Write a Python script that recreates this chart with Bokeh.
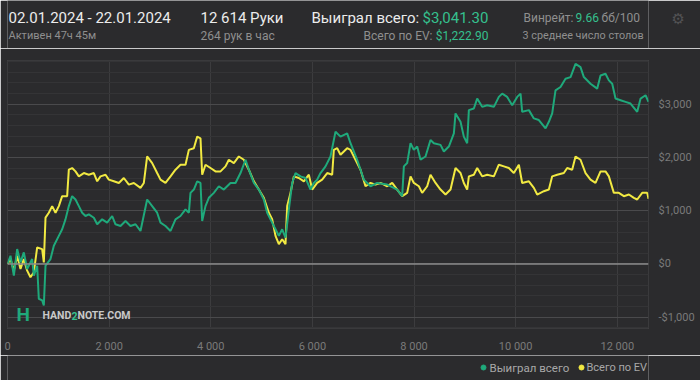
from bokeh.plotting import figure
from bokeh.layouts import column
from bokeh.models import (Range1d, Label, Span, SingleIntervalTicker, FixedTicker,
                          CustomJSTickFormatter)
from bokeh.core.properties import value
from bokeh.embed import file_html
from bokeh.resources import INLINE

# ---- data (hands, dollars) ----
won_hands = [0, 59, 125, 190, 256, 321, 387, 485, 518, 584, 616, 682, 715, 748, 846, 912, 1010, 1076,
             1141, 1207, 1272, 1338, 1404, 1469, 1535, 1600, 1699, 1765, 1863, 1961, 2060, 2125, 2224,
             2322, 2420, 2519, 2617, 2748, 2847, 2945, 3011, 3109, 3208, 3306, 3404, 3503, 3569, 3601,
             3667, 3733, 3798, 3831, 3896, 3962, 4060, 4159, 4257, 4388, 4487, 4585, 4684, 4749, 4848,
             4946, 5044, 5110, 5208, 5274, 5340, 5405, 5471, 5537, 5602, 5668, 5766, 5864, 5963, 6028,
             6094, 6160, 6258, 6356, 6455, 6553, 6684, 6750, 6881, 7012, 7144, 7275, 7472, 7668, 7767,
             7800, 7865, 7931, 7996, 8062, 8128, 8226, 8324, 8390, 8521, 8587, 8685, 8784, 8816, 8915,
             8980, 9046, 9079, 9177, 9243, 9341, 9440, 9571, 9669, 9735, 9833, 9932, 10030, 10096,
             10128, 10260, 10358, 10456, 10588, 10653, 10719, 10784, 10883, 10981, 11080, 11178,
             11276, 11342, 11473, 11604, 11670, 11768, 11834, 11900, 11965, 12064, 12162, 12260,
             12392, 12458, 12556, 12614]
won_values = [0, 155, -218, 279, 31, 217, -94, 93, -218, -32, -652, -683, -776, -32, 93, 341, 527, 651,
              837, 1086, 1272, 1210, 1086, 962, 900, 931, 868, 745, 838, 775, 900, 745, 713,
              806, 713, 745, 620, 1210, 1086, 962, 775, 713, 620, 838, 900, 1024, 962, 1334,
              1396, 1551, 1520, 806, 1086, 1241, 1334, 1458, 1396, 1520, 1520, 1706, 1955, 1769, 1520,
              1396, 1210, 962, 775, 651, 527, 651, 496, 1024, 1520, 1706, 1644, 1613, 1396, 1520,
              1582, 1706, 1831, 2017, 2482, 2389, 2451, 2265, 1955, 1582, 1458, 1520, 1489, 1396, 1272,
              1831, 1893, 2265, 2141, 2203, 1955, 2017, 2327, 2265, 2234, 2110, 2203, 2451, 2824, 2668,
              2389, 2265, 2886, 2917, 3103, 2948, 2979, 2948, 3134, 3196, 3134, 2979, 3134, 3196,
              2855, 2886, 2731, 2700, 2544, 2668, 2824, 3258, 3320, 3475, 3506, 3755,
              3693, 3506, 3382, 3289, 3537, 3568, 3444, 3382, 3103, 3072, 3041, 3010,
              2855, 3103, 3165, 3041.30]

ev_hands = [0, 59, 125, 190, 256, 321, 387, 452, 518, 584, 682, 715, 748, 813, 879, 945, 1010, 1076,
            1174, 1207, 1272, 1338, 1404, 1502, 1600, 1699, 1765, 1830, 1929, 1994, 2093, 2191, 2289,
            2388, 2486, 2617, 2683, 2748, 2847, 2945, 3011, 3109, 3208, 3306, 3404, 3503, 3569, 3667,
            3733, 3798, 3831, 3896, 3995, 4093, 4192, 4290, 4356, 4454, 4552, 4651, 4749, 4848, 4946,
            5044, 5143, 5208, 5274, 5340, 5405, 5471, 5504, 5569, 5635, 5733, 5832, 5930, 5996, 6094,
            6192, 6291, 6389, 6422, 6488, 6553, 6684, 6750, 6848, 6947, 7045, 7144, 7242, 7340, 7472,
            7570, 7668, 7767, 7865, 7931, 7996, 8095, 8160, 8259, 8324, 8423, 8521, 8620, 8718, 8816,
            8915, 8980, 9046, 9079, 9177, 9243, 9341, 9440, 9571, 9669, 9768, 9866, 9964, 10063,
            10128, 10260, 10358, 10424, 10555, 10653, 10719, 10817, 10948, 11014, 11112, 11178,
            11276, 11375, 11473, 11571, 11670, 11768, 11834, 11932, 12030, 12129, 12228, 12326,
            12392, 12490, 12589, 12614]
ev_values = [0, 93, -125, 155, -94, 93, -125, -249, -156, 310, 279, 31, 869, 962, 1086, 962, 1086, 1272,
             1272, 1769, 1800, 1737, 1644, 1706, 1675, 1706, 1551, 1644, 1675, 1582, 1551, 1520, 1613,
             1489, 1520, 1427, 1520, 2017, 1893, 1706, 1582, 1520, 1644, 1769, 1862, 1862, 2141, 2172,
             2389, 2358, 1675, 1862, 1800, 1737, 1737, 1831, 1955, 1893, 2017, 1955, 1769, 1551, 1396,
             1241, 962, 838, 527, 372, 465, 372, 1086, 1334, 1644, 1613, 1551, 1675, 1396, 1520,
             1582, 1706, 1675, 2141, 2172, 2048, 2172, 2141, 1955, 1769, 1458, 1520, 1489, 1520, 1458,
             1520, 1396, 1272, 1334, 1644, 1520, 1458, 1334, 1458, 1675, 1520, 1396, 1303, 1396, 1800,
             1706, 1520, 1396, 1644, 1675, 1800, 1644, 1675, 1644, 1862, 1831, 1800, 1706, 1862,
             1520, 1551, 1427, 1303, 1365, 1396, 1644, 1675, 1706, 1800, 1769, 2017,
             1955, 1706, 1582, 1520, 1737, 1737, 1644, 1334, 1334, 1272, 1303, 1241,
             1210, 1334, 1334, 1222.90]

series_names = ["Выиграл всего", "Всего по EV"]
x_ticks_interval = 2000
y_ticks_interval = 1000
total_hands = 12614

# ---- styling ----
BG = "#2b2b2d"
GREEN = "#1fa97b"
GREEN_TXT = "#35c08e"
YELLOW = "#f1e942"
WHITE = "#ececec"
GREY = "#8f8f8f"
FONT = "Roboto"

W = 700
HEAD_H = 48
FOOT_H = 25
MAIN_H = 380 - HEAD_H - FOOT_H      # 307
FL, FR = 7, 648                     # frame left/right (canvas px), shared by all rows
FT, FB = 60 - HEAD_H, 330 - HEAD_H  # frame top/bottom inside main figure
Y0, Y1 = -1210, 3817


def text_panel(h, right_axis=False):
    f = figure(width=W, height=h, x_range=Range1d(FL, FR), y_range=Range1d(h, 0),
               output_backend="svg", toolbar_location=None, x_axis_type=None,
               y_axis_type="linear" if right_axis else None,
               y_axis_location="right",
               min_border_left=FL, min_border_right=W - FR, min_border_top=0, min_border_bottom=0,
               background_fill_color=BG, border_fill_color=BG, outline_line_color=None)
    f.xgrid.visible = False
    f.ygrid.visible = False
    return f


def txt(f, x, y, text, color, size, align="left", style="normal", font=FONT):
    f.text(x=[x], y=[y], text=[text], text_color=color, text_font=value(font),
           text_font_size=f"{size}px", text_align=align, text_baseline="middle",
           text_font_style=style)


# ---- header ----
head = text_panel(HEAD_H, right_axis=True)
txt(head, 8, 17, "02.01.2024 - 22.01.2024", WHITE, 15)
txt(head, 8, 35, "Активен 47ч 45м", GREY, 11)
txt(head, 200, 17, "12 614 Руки", WHITE, 15)
txt(head, 200, 35, "264 рук в час", GREY, 12)
txt(head, 311, 17, "Выиграл всего:", WHITE, 15)
txt(head, 422, 17, "$3,041.30", GREEN_TXT, 15)
txt(head, 432, 35, "Всего по EV:", GREY, 12, align="right")
txt(head, 488, 35, "$1,222.90", GREEN_TXT, 12, align="right")
txt(head, 523, 17, "Винрейт:", GREY, 12)
txt(head, 575, 17, "9.66", GREEN_TXT, 12)
txt(head, 601, 17, "бб/100", GREY, 12)
txt(head, 522, 35, "3 среднее число столов", GREY, 10.8)
# settings gear shown as the only tick label of the (otherwise invisible) right axis
gy = head.yaxis[0]
gy.ticker = FixedTicker(ticks=[18])
gy.major_label_overrides = {18: "⚙"}
gy.major_label_text_font = "DejaVu Sans"
gy.major_label_text_font_size = "15px"
gy.major_label_text_color = "#525254"
gy.axis_line_color = None
gy.major_tick_line_color = None
gy.minor_tick_line_color = None
gy.major_tick_out = 0
gy.major_tick_in = 0
gy.major_label_standoff = 23

# ---- main chart ----
p = figure(width=W, height=MAIN_H, x_range=Range1d(0, total_hands), y_range=Range1d(Y0, Y1),
           y_axis_location="right", output_backend="svg", toolbar_location=None,
           min_border_left=FL, min_border_right=W - FR, min_border_top=FT,
           min_border_bottom=MAIN_H - FB, background_fill_color=BG, border_fill_color=BG,
           outline_line_color="#3a3a3c")


def X(px):
    return (px - FL) * total_hands / (FR - FL)


def Y(py):
    return Y0 + (FB - (py - HEAD_H)) * (Y1 - Y0) / (FB - FT)


p.xaxis.ticker = SingleIntervalTicker(interval=x_ticks_interval)
p.yaxis.ticker = SingleIntervalTicker(interval=y_ticks_interval, num_minor_ticks=5)
p.xaxis.formatter = CustomJSTickFormatter(code="""
return Math.round(tick).toString().replace(/\\B(?=(\\d{3})+(?!\\d))/g, " ");""")
p.yaxis.formatter = CustomJSTickFormatter(code="""
var a = Math.abs(Math.round(tick)).toString().replace(/\\B(?=(\\d{3})+(?!\\d))/g, ",");
return (tick < 0 ? "-$" : "$") + a;""")
for ax in (p.xaxis, p.yaxis):
    ax.axis_line_color = None
    ax.major_tick_line_color = None
    ax.minor_tick_line_color = None
    ax.major_label_text_color = "#7a7a7a"
    ax.major_label_text_font = FONT
    ax.major_label_text_font_size = "11px"
p.xaxis.major_label_standoff = 5
p.yaxis.major_label_standoff = 4

p.xgrid.ticker = p.xaxis.ticker
p.xgrid.grid_line_color = "#3c3c3e"
p.ygrid.grid_line_color = "#4a4a4c"
p.ygrid.minor_grid_line_color = "#343436"

p.add_layout(Span(location=0, dimension="width", line_color="#8a8a8a", line_width=1.5))

p.line(ev_hands, ev_values, line_color=YELLOW, line_width=2)
p.line(won_hands, won_values, line_color=GREEN, line_width=2)


def lab(px, py, text, color, size, style="normal"):
    p.add_layout(Label(x=X(px), y=Y(py), text=text, text_color=color, text_font=FONT,
                       text_font_size=f"{size}px", text_align="left", text_baseline="middle",
                       text_font_style=style))


# logo (inside the frame)
lab(16, 316, "H", GREEN, 19, style="bold")
lab(42, 317, "HAND", "#c8c8c8", 10.5, style="bold")
lab(71, 317, "2", GREEN_TXT, 10.5, style="bold")
lab(77, 317, "NOTE.COM", "#c8c8c8", 10.5, style="bold")

# ---- footer legend ----
foot = text_panel(FOOT_H)
LY = 367 - (380 - FOOT_H)
foot.scatter(x=[483], y=[LY], size=5, color=GREEN)
txt(foot, 489, LY, series_names[0], "#a8a8a8", 11.5)
foot.scatter(x=[581], y=[LY], size=5, color=YELLOW)
txt(foot, 586, LY, series_names[1], "#a8a8a8", 11)

layout = column(head, p, foot, spacing=0)
open("out.html", "w").write(file_html(layout, INLINE))
